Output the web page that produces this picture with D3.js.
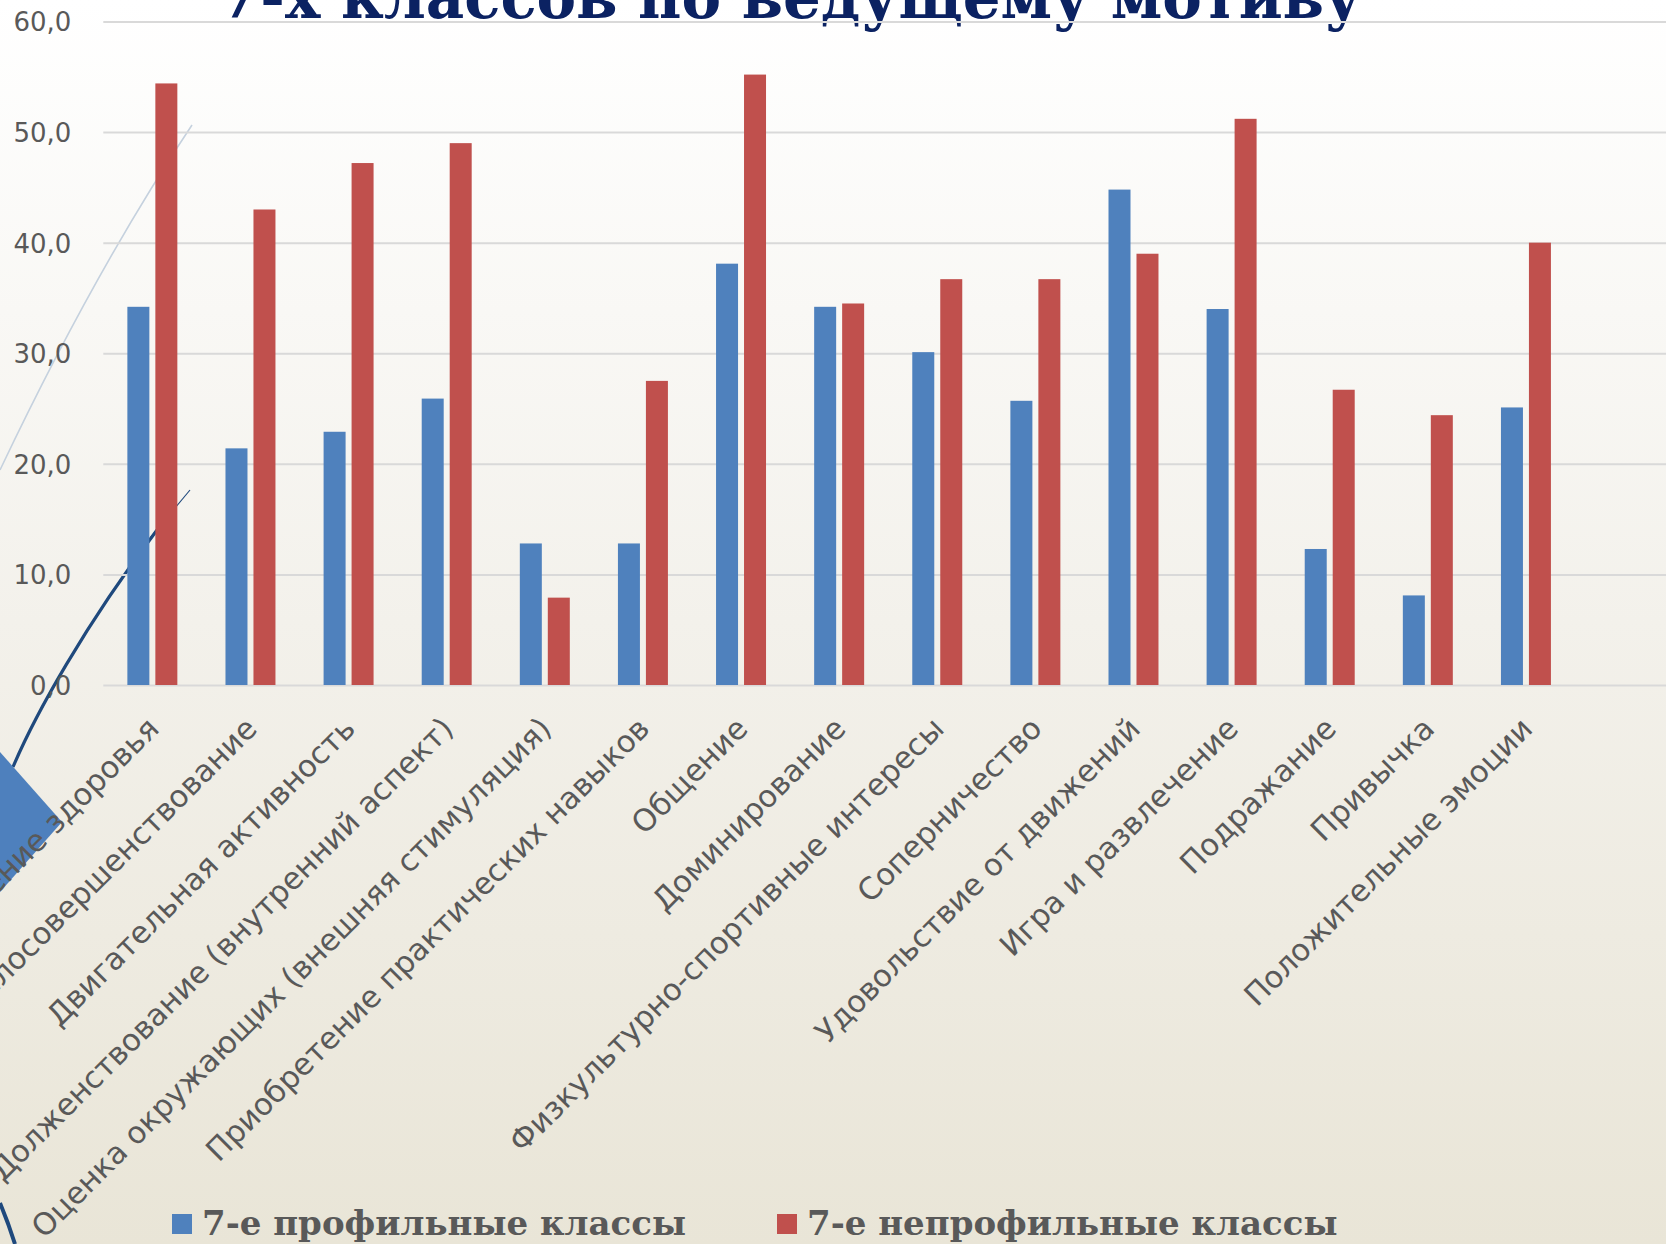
<!DOCTYPE html>
<html>
<head>
<meta charset="utf-8">
<script src="https://cdn.jsdelivr.net/npm/d3@7"></script>
<style>
  body { margin: 0; }
  svg { display: block; }
</style>
</head>
<body>
<svg id="chart"></svg>
<script>
(function() {

  const categories = [
    'Укрепление здоровья',
    'Телосовершенствование',
    'Двигательная активность',
    'Долженствование (внутренний аспект)',
    'Оценка окружающих (внешняя стимуляция)',
    'Приобретение практических навыков',
    'Общение',
    'Доминирование',
    'Физкультурно-спортивные интересы',
    'Соперничество',
    'Удовольствие от движений',
    'Игра и развлечение',
    'Подражание',
    'Привычка',
    'Положительные эмоции'
  ];
  const seriesNames = ['7-е профильные классы', '7-е непрофильные классы'];
  const profileValues = [34.2, 21.4, 22.9, 25.9, 12.8, 12.8, 38.1, 34.2, 30.1, 25.7, 44.8, 34.0, 12.3, 8.1, 25.1];
  const nonProfileValues = [54.4, 43.0, 47.2, 49.0, 7.9, 27.5, 55.2, 34.5, 36.7, 36.7, 39.0, 51.2, 26.7, 24.4, 40.0];
  const yTicks = [0, 10, 20, 30, 40, 50, 60];
  const title = '7-х классов по ведущему мотиву';

  const colors = ['#4f81bd', '#c0504d'];

  const width = 1666;
  const height = 1244;
  const margin = { left: 103.3, top: 21.5, bottom: 559 };
  const plotRight = 1575;
  const baseY = height - margin.bottom;

  const svg = d3.select('#chart')
    .attr('width', width)
    .attr('height', height);

  // slide background
  const defs = svg.append('defs');
  const grad = defs.append('linearGradient')
    .attr('id', 'bg')
    .attr('x1', 0).attr('y1', 0).attr('x2', 0).attr('y2', 1);
  grad.append('stop').attr('offset', '0%').attr('stop-color', '#ffffff');
  grad.append('stop').attr('offset', '50%').attr('stop-color', '#f3f1eb');
  grad.append('stop').attr('offset', '100%').attr('stop-color', '#e9e5d7');
  svg.append('rect').attr('width', width).attr('height', height).attr('fill', 'url(#bg)');

  // theme decorations on the left edge
  const deco = svg.append('g').attr('class', 'deco');
  deco.append('path')
    .attr('d', 'M0,470 Q95,270 192,125')
    .attr('fill', 'none').attr('stroke', '#c5d1de').attr('stroke-width', 1.6);
  deco.append('path')
    .attr('d', 'M13,767 C35,715 85,625 157,530')
    .attr('fill', 'none').attr('stroke', '#1f497d').attr('stroke-width', 3.2);
  deco.append('path')
    .attr('d', 'M150,538 L190,490')
    .attr('fill', 'none').attr('stroke', '#1f497d').attr('stroke-width', 1.1);
  deco.append('path')
    .attr('d', 'M0,1203 Q8,1222 15,1244')
    .attr('fill', 'none').attr('stroke', '#1f497d').attr('stroke-width', 4);
  deco.append('path')
    .attr('d', 'M-70,822 L0,752 L62,822 L0,892 Z')
    .attr('fill', '#4e80bd');

  // title (cut by top edge)
  svg.append('text')
    .attr('x', 219)
    .attr('y', 18)
    .attr('textLength', 1143)
    .attr('lengthAdjust', 'spacingAndGlyphs')
    .style('font-family', '"DejaVu Serif", serif')
    .style('font-weight', 'bold')
    .style('font-size', '62px')
    .attr('fill', '#0b2262')
    .text(title);

  const x0 = d3.scaleBand()
    .domain(categories)
    .range([margin.left, plotRight])
    .paddingInner(0)
    .paddingOuter(0);

  const x1 = d3.scaleBand()
    .domain(seriesNames)
    .range([0, x0.bandwidth()])
    .paddingInner(0.214)
    .paddingOuter(0.86);

  const y = d3.scaleLinear()
    .domain([0, 60])
    .range([baseY, margin.top]);

  const fmt = function(d) {
    return d3.format('.1f')(d).replace('.', ',');
  };

  const yAxis = svg.append('g')
    .attr('transform', 'translate(' + margin.left + ',0)')
    .call(d3.axisLeft(y)
      .tickValues(yTicks)
      .tickSize(-(width - margin.left))
      .tickPadding(32)
      .tickFormat(fmt));
  yAxis.select('.domain').remove();
  yAxis.selectAll('.tick line')
    .attr('stroke', '#d9d9d9')
    .attr('stroke-width', 2);
  yAxis.selectAll('.tick text')
    .attr('fill', '#595959')
    .attr('dy', '0.36em')
    .style('font-family', '"DejaVu Sans", sans-serif')
    .style('font-size', '26px');

  const rows = categories.map(function(c, i) {
    return { cat: c, values: [profileValues[i], nonProfileValues[i]] };
  });

  const groups = svg.append('g').selectAll('g')
    .data(rows)
    .enter()
    .append('g')
    .attr('transform', function(d) { return 'translate(' + x0(d.cat) + ',0)'; });

  groups.selectAll('rect')
    .data(function(d) {
      return d.values.map(function(v, k) { return { key: seriesNames[k], value: v, k: k }; });
    })
    .enter()
    .append('rect')
    .attr('x', function(d) { return x1(d.key); })
    .attr('width', x1.bandwidth())
    .attr('y', function(d) { return y(d.value); })
    .attr('height', function(d) { return baseY - y(d.value); })
    .attr('fill', function(d) { return colors[d.k]; });

  // category labels, rotated
  svg.append('g').selectAll('text')
    .data(categories)
    .enter()
    .append('text')
    .attr('transform', function(d) {
      return 'translate(' + (x0(d) + x0.bandwidth() / 2 - 11) + ',' + (baseY + 26) + ') rotate(-45)';
    })
    .attr('text-anchor', 'end')
    .attr('dy', '0.9em')
    .attr('fill', '#595959')
    .style('font-family', '"DejaVu Sans", sans-serif')
    .style('font-size', '30.5px')
    .text(function(d) { return d; });

  // legend
  const legendX = [172, 777];
  const legend = svg.append('g').selectAll('g')
    .data(seriesNames)
    .enter()
    .append('g')
    .attr('transform', function(d, i) { return 'translate(' + legendX[i] + ',1214)'; });
  legend.append('rect')
    .attr('width', 20)
    .attr('height', 20)
    .attr('fill', function(d, i) { return colors[i]; });
  legend.append('text')
    .attr('x', 30)
    .attr('y', 21)
    .attr('fill', '#595959')
    .style('font-family', '"DejaVu Serif", serif')
    .style('font-weight', 'bold')
    .style('font-size', '34px')
    .text(function(d) { return d; });
})();
</script>
</body>
</html>
